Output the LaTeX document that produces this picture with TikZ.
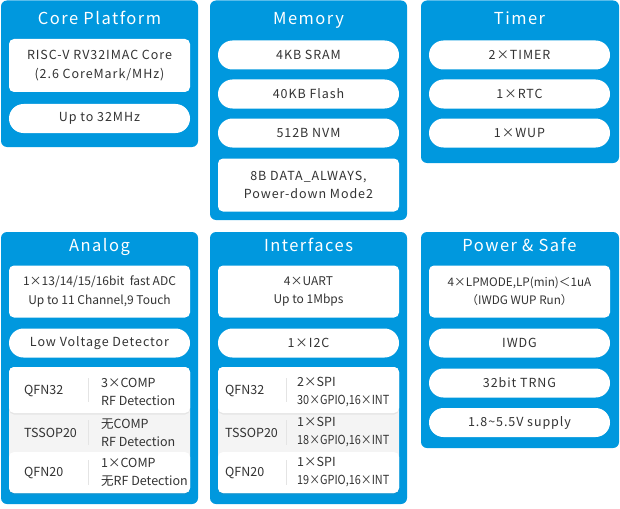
\documentclass[tikz,border=0pt]{standalone}
\usepackage{fontspec}
\setmainfont{Noto Sans CJK SC}
\newfontfamily\titlefont[LetterSpace=9]{Noto Sans CJK SC}
\newfontfamily\widefont[LetterSpace=7.5]{Noto Sans CJK SC}
\usetikzlibrary{positioning,shadows}

\definecolor{panelblue}{RGB}{0,152,222}
\definecolor{textgray}{RGB}{51,51,51}
\definecolor{rowgray}{RGB}{244,244,244}
\definecolor{linegray}{RGB}{228,228,228}

\newcommand{\narrow}[1]{\scalebox{0.87}[1]{#1}}

\tikzset{
  panel/.style={fill=panelblue,rounded corners=6pt},
  title/.style={text=white,anchor=base,font=\titlefont\fontsize{16.5}{18}\selectfont},
  pill/.style={fill=white,rounded corners=14.5pt,minimum width=181pt,minimum height=29pt,
    inner sep=0pt,text=textgray,font=\widefont\fontsize{12.5}{15}\selectfont},
  card/.style={fill=white,rounded corners=5pt,minimum width=181pt,minimum height=53pt,
    inner sep=0pt,align=center,text=textgray,font=\widefont\fontsize{12.5}{18.5}\selectfont},
  plaincard/.style={card,minimum height=52pt,font=\fontsize{12}{18.5}\selectfont},
  tablerow/.style={fill=white,rounded corners=5pt,minimum width=181pt,inner sep=0pt,
    drop shadow={opacity=0.12,shadow xshift=0pt,shadow yshift=-1.5pt}},
  cell/.style={anchor=west,inner sep=0pt,align=left,text=textgray,
    font=\fontsize{12.5}{18}\selectfont},
}

\begin{document}
\begin{tikzpicture}[x=1pt,y=-1pt]
  \useasboundingbox (0,0) rectangle (620,508);

  % blue panels
  \fill[panel] (1,0.5) rectangle (198,147);
  \fill[panel] (210,0.5) rectangle (407,220);
  \fill[panel] (421,0.5) rectangle (619,163);
  \fill[panel] (1,232) rectangle (198,504);
  \fill[panel] (210,232) rectangle (407,504);
  \fill[panel] (421,232) rectangle (619,448);

  % Core Platform
  \node[title] (coret) at (99.5,25) {Core Platform};
  \node[card] (core1) at (99.5,65.5) {RISC-V RV32IMAC Core\\(2.6 CoreMark/MHz)};
  \node[pill] (core2) at (99.5,118.5) {Up to 32MHz};

  % Memory
  \node[title] (memt) at (308.5,25) {Memory};
  \node[pill] (mem1) at (308.5,55) {4KB SRAM};
  \node[pill] (mem2) at (308.5,94) {40KB Flash};
  \node[pill] (mem3) at (308.5,133) {512B NVM};
  \node[card] (mem4) at (308.5,185) {8B DATA\_ALWAYS,\\Power-down Mode2};

  % Timer
  \node[title] (timt) at (519.5,25) {Timer};
  \node[pill] (tim1) at (519.5,55) {2×TIMER};
  \node[pill] (tim2) at (519.5,94) {1×RTC};
  \node[pill] (tim3) at (519.5,133) {1×WUP};

  % Analog
  \node[title] (anat) at (99.5,251.5) {Analog};
  \node[plaincard] (ana1) at (99.5,291.5) {1×13/14/15/16bit\ \ fast ADC\\Up to 11 Channel,9 Touch};
  \node[pill] (ana2) at (99.5,343) {Low Voltage Detector};
  \fill[rowgray,rounded corners=5pt] (9,367) rectangle (190,493);
  \node[tablerow,minimum height=46pt] (anar1) at (99.5,390) {};
  \node[tablerow,minimum height=41pt] (anar3) at (99.5,472.5) {};
  \draw[linegray] (88,378) -- (88,402) (88,420) -- (88,445) (88,460) -- (88,485);
  \node[cell] (anap1) at (24,391) {QFN32};
  \node[cell] (anap2) at (24,432.5) {TSSOP20};
  \node[cell] (anap3) at (24,472.5) {QFN20};
  \node[cell] (anaf1) at (101,392) {3×COMP\\RF Detection};
  \node[cell] (anaf2) at (101,432.5) {无COMP\\RF Detection};
  \node[cell] (anaf3) at (101,472.5) {1×COMP\\无RF Detection};

  % Interfaces
  \node[title] (ift) at (308.5,251.5) {Interfaces};
  \node[plaincard] (if1) at (308.5,291.5) {4×UART\\Up to 1Mbps};
  \node[pill] (if2) at (308.5,343) {1×I2C};
  \fill[rowgray,rounded corners=5pt] (218,367) rectangle (399,493);
  \node[tablerow,minimum height=46pt] (ifr1) at (308.5,390) {};
  \node[tablerow,minimum height=41pt] (ifr3) at (308.5,472.5) {};
  \draw[linegray] (286,378) -- (286,402) (286,420) -- (286,445) (286,460) -- (286,485);
  \node[cell] (ifp1) at (225,391) {QFN32};
  \node[cell] (ifp2) at (225,432.5) {TSSOP20};
  \node[cell] (ifp3) at (225,472.5) {QFN20};
  \node[cell] (iff1) at (297,392) {2×SPI\\\narrow{30×GPIO,16×INT}};
  \node[cell] (iff2) at (297,432.5) {1×SPI\\\narrow{18×GPIO,16×INT}};
  \node[cell] (iff3) at (297,472.5) {1×SPI\\\narrow{19×GPIO,16×INT}};

  % Power & Safe
  \node[title] (pwrt) at (519.5,251.5) {Power \& Safe};
  \node[plaincard,font=\fontsize{11.7}{18.5}\selectfont] (pwr1) at (519.5,291.5)
    {4×LPMODE,LP(min)＜1uA\\（IWDG WUP Run）};
  \node[pill] (pwr2) at (519.5,343) {IWDG};
  \node[pill] (pwr3) at (519.5,383) {32bit TRNG};
  \node[pill] (pwr4) at (519.5,422.5) {1.8\textasciitilde5.5V supply};
\end{tikzpicture}
\end{document}
